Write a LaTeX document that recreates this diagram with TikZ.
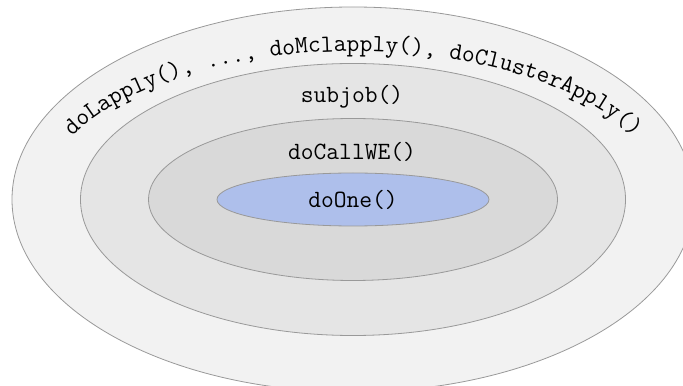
\documentclass[tikz,border=0pt]{standalone}
\usetikzlibrary{shapes.geometric,decorations.text}
\definecolor{ringA}{HTML}{F2F2F2}
\definecolor{ringB}{HTML}{E5E5E5}
\definecolor{ringC}{HTML}{D9D9D9}
\definecolor{coreblue}{HTML}{AEBFEB}
\definecolor{rim}{HTML}{999999}
\begin{document}
\begin{tikzpicture}[x=0.5pt,y=0.5pt,
  ring/.style={ellipse, draw=rim, line width=0.4pt, inner sep=0pt},
  lbl/.style={font=\fontsize{12.4}{15}\selectfont\ttfamily, inner sep=0pt}]
\useasboundingbox (0,0) rectangle (683,385);
\begin{scope}
\clip (0,0) rectangle (683,385);
\node[ring, fill=ringA, minimum width=341pt, minimum height=192.5pt] (outer) at (353,185.5) {};
\node[ring, fill=ringB, minimum width=272.5pt, minimum height=136pt] (subj) at (353,185.5) {};
\node[ring, fill=ringC, minimum width=204.5pt, minimum height=81pt] (callwe) at (353,185.5) {};
\node[ring, fill=coreblue, minimum width=136pt, minimum height=26.5pt, lbl] (one) at (353,185.5) {doOne()};
\end{scope}
\node[lbl] (subjlbl) at (352,288) {subjob()};
\node[lbl] (callwelbl) at (352,233.5) {doCallWE()};
\path[decorate, decoration={text along path, text align=center,
  text={|\fontsize{12.4}{15}\selectfont\ttfamily|doLapply(), ..., doMclapply(), doClusterApply()}}]
  ([shift={(160:310 and 148)}]outer.center) arc[start angle=160, end angle=20, x radius=310, y radius=148];
\end{tikzpicture}
\end{document}
